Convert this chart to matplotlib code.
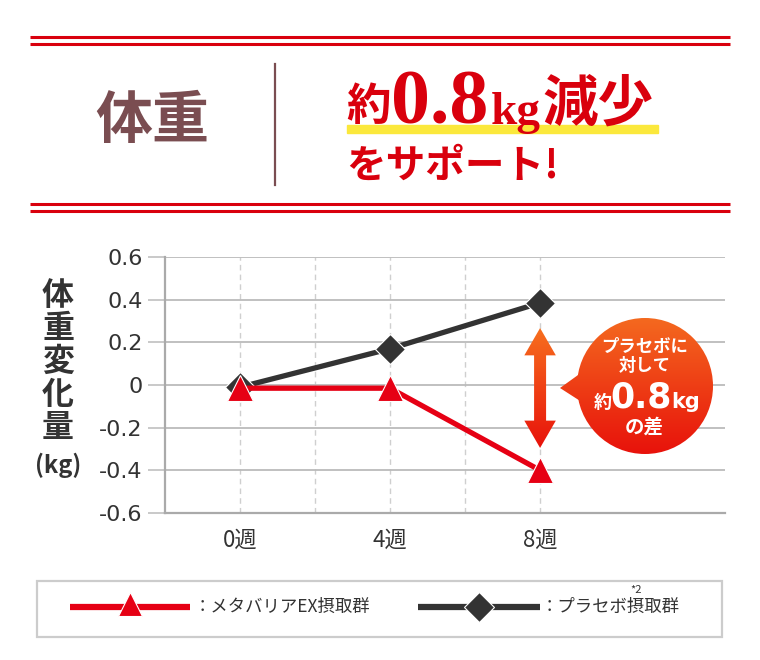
import matplotlib
matplotlib.use("Agg")
import matplotlib.pyplot as plt
import numpy as np
from matplotlib.colors import LinearSegmentedColormap
from matplotlib.patches import Polygon, Circle, Rectangle

plt.rcParams['font.family'] = ['Noto Sans CJK JP', 'DejaVu Sans']

# data
weeks = [0, 4, 8]
week_labels = ["0週", "4週", "8週"]
metabarrier = [-0.015, -0.015, -0.40]
placebo = [-0.01, 0.17, 0.385]
yticks = [0.6, 0.4, 0.2, 0, -0.2, -0.4, -0.6]
ytick_labels = ["0.6", "0.4", "0.2", "0", "-0.2", "-0.4", "-0.6"]

RED = "#e60014"
BLACK = "#333333"
HEAD_RED = "#d9000d"
BROWN = "#7a4d51"


def gradient_patch(ax, patch, extent, c_top, c_bot, zorder):
    patch.set_facecolor("none")
    patch.set_edgecolor("none")
    ax.add_patch(patch)
    cmap = LinearSegmentedColormap.from_list("g", [c_top, c_bot])
    img = np.linspace(0, 1, 256).reshape(-1, 1)
    im = ax.imshow(img, cmap=cmap, extent=extent, origin="upper",
                   aspect="auto", zorder=zorder, interpolation="bilinear")
    im.set_clip_path(patch)
    return im


def right_edge(t, renderer):
    # right edge of a text in overlay (pixel) coords
    bb = t.get_window_extent(renderer)
    return bb.x1


fig = plt.figure(figsize=(7.6, 6.6), dpi=100)
renderer = fig.canvas.get_renderer()
ax = fig.add_axes([165 / 760, 1 - 513 / 660, 560 / 760, 256 / 660])

# grid
ax.set_ylim(-0.6, 0.6)
ax.set_xlim(-2, 12.93)
ax.set_yticks(yticks)
ax.set_yticklabels(ytick_labels, family=["DejaVu Sans"])
ax.set_xticks(weeks)
ax.set_xticklabels(week_labels)
ax.set_xticks([2, 6], minor=True)
ax.yaxis.grid(True, color="#bbbbbb", lw=1.3)
ax.xaxis.grid(True, which="both", color="#cfcfcf", lw=1.0, ls=(0, (4, 3)))
ax.tick_params(axis="y", length=12, width=1.1, color="#bbbbbb", pad=4,
               labelsize=16, labelcolor="#333333")
ax.tick_params(axis="x", which="both", length=0, pad=11, labelsize=16,
               labelcolor="#333333")
for s in ["top", "right"]:
    ax.spines[s].set_visible(False)
for s in ["left", "bottom"]:
    ax.spines[s].set_color("#aaaaaa")
    ax.spines[s].set_linewidth(1.6)
ax.set_axisbelow(True)

# series
ax.plot(weeks, placebo, color=BLACK, lw=3.8, marker="D", ms=15,
        mec="white", mew=0.8, zorder=3)
ax.plot(weeks, metabarrier, color=RED, lw=3.8, marker="^", ms=19,
        mec="white", mew=0.8, zorder=4)

# gradient double arrow between the two series at 8 weeks
xc = weeks[2]
top = placebo[2] - 0.118
bot = metabarrier[2] + 0.105
sw, hw, hh = 0.16, 0.42, 0.128
arrow_pts = [(xc, top), (xc + hw, top - hh), (xc + sw, top - hh),
             (xc + sw, bot + hh), (xc + hw, bot + hh), (xc, bot),
             (xc - hw, bot + hh), (xc - sw, bot + hh), (xc - sw, top - hh),
             (xc - hw, top - hh)]
gradient_patch(ax, Polygon(arrow_pts, closed=True),
               (xc - hw, xc + hw, bot, top), "#f76f1e", "#e8120b", 5)
ax.set_xlim(-2, 12.93)
ax.set_ylim(-0.6, 0.6)

# overlay in pixel coords (y down)
ov = fig.add_axes([0, 0, 1, 1], zorder=5)
ov.set_xlim(0, 760)
ov.set_ylim(660, 0)
ov.axis("off")
ov.patch.set_alpha(0)

# header lines
for y in [37, 44, 204, 211]:
    ov.plot([30, 730], [y, y], color=HEAD_RED, lw=2.2, solid_capstyle="butt")
ov.plot([275, 275], [64, 185], color=BROWN, lw=1.6)
ov.text(152, 121, "体重", fontsize=41, fontweight="bold", color=BROWN,
        ha="center", va="center")
ov.add_patch(Rectangle((347, 125), 311, 7.5, color="#fbe83c", zorder=1))
t1 = ov.text(346, 120, "約", fontsize=32, fontweight="bold", color=HEAD_RED,
             va="baseline", zorder=2)
x = right_edge(t1, renderer) + 1
t2 = ov.text(x, 124, "0.8", fontsize=56, fontweight="bold", color=HEAD_RED,
             va="baseline", family=["Liberation Serif"], zorder=2)
x = right_edge(t2, renderer) + 2
t3 = ov.text(x, 124, "kg", fontsize=34, fontweight="bold", color=HEAD_RED,
             va="baseline", family=["Liberation Serif"], zorder=2)
x = right_edge(t3, renderer) + 2
ov.text(x, 121, "減少", fontsize=40, fontweight="bold", color=HEAD_RED,
        va="baseline", zorder=2)
ov.text(346, 178, "をサポート!", fontsize=28.5, fontweight="bold",
        color=HEAD_RED, va="baseline")

# y label
for ch, y in zip("体重変化量", [296, 329, 362, 395, 428]):
    ov.text(58, y, ch, fontsize=23, fontweight="bold", color="#333333",
            ha="center", va="center")
ov.text(58, 465, "(kg)", fontsize=17, fontweight="bold", color="#333333",
        ha="center", va="center")

# speech bubble
cx, cy, r = 645, 386, 68
gradient_patch(ov, Circle((cx, cy), r), (cx - r, cx + r, cy + r, cy - r),
               "#f4691f", "#e8120b", 6)
gradient_patch(ov, Polygon([(560, 388), (585, 370), (588, 406)], closed=True),
               (560, 590, cy + r, cy - r), "#f4691f", "#e8120b", 6)
ov.text(645, 347, "プラセボに", fontsize=12.5, fontweight="bold",
        color="white", ha="center", va="center", zorder=7)
ov.text(645, 366, "対して", fontsize=12.5, fontweight="bold",
        color="white", ha="center", va="center", zorder=7)
ov.text(612, 408, "約", fontsize=13, fontweight="bold", color="white",
        ha="right", va="baseline", zorder=7)
ov.text(641, 408, "0.8", fontsize=25, fontweight="bold", color="white",
        ha="center", va="baseline", family=["DejaVu Sans"], zorder=7)
ov.text(671, 408, "kg", fontsize=15, fontweight="bold", color="white",
        ha="left", va="baseline", family=["DejaVu Sans"], zorder=7)
ov.text(644, 427, "の差", fontsize=14, fontweight="bold", color="white",
        ha="center", va="center", zorder=7)

# legend
ov.add_patch(Rectangle((37, 581), 685, 56, fill=False, edgecolor="#cccccc",
                       lw=1.6))
ov.plot([70, 190], [607, 607], color=RED, lw=4.5, solid_capstyle="butt")
ov.plot([130], [604], marker="^", ms=17, color=RED, mec="white", mew=0.8)
ov.plot([418, 540], [607, 607], color=BLACK, lw=4.5, solid_capstyle="butt")
ov.plot([479], [607], marker="D", ms=15, color=BLACK, mec="white", mew=0.8)
ov.text(194, 607, "：メタバリアEX摂取群", fontsize=12.5, color="#333333",
        va="center")
ov.text(541, 607, "：プラセボ摂取群", fontsize=12.5, color="#333333",
        va="center")
ov.text(636, 590, "*2", fontsize=8, color="#333333", ha="center",
        va="center")

fig.savefig("out.png", dpi=100)
